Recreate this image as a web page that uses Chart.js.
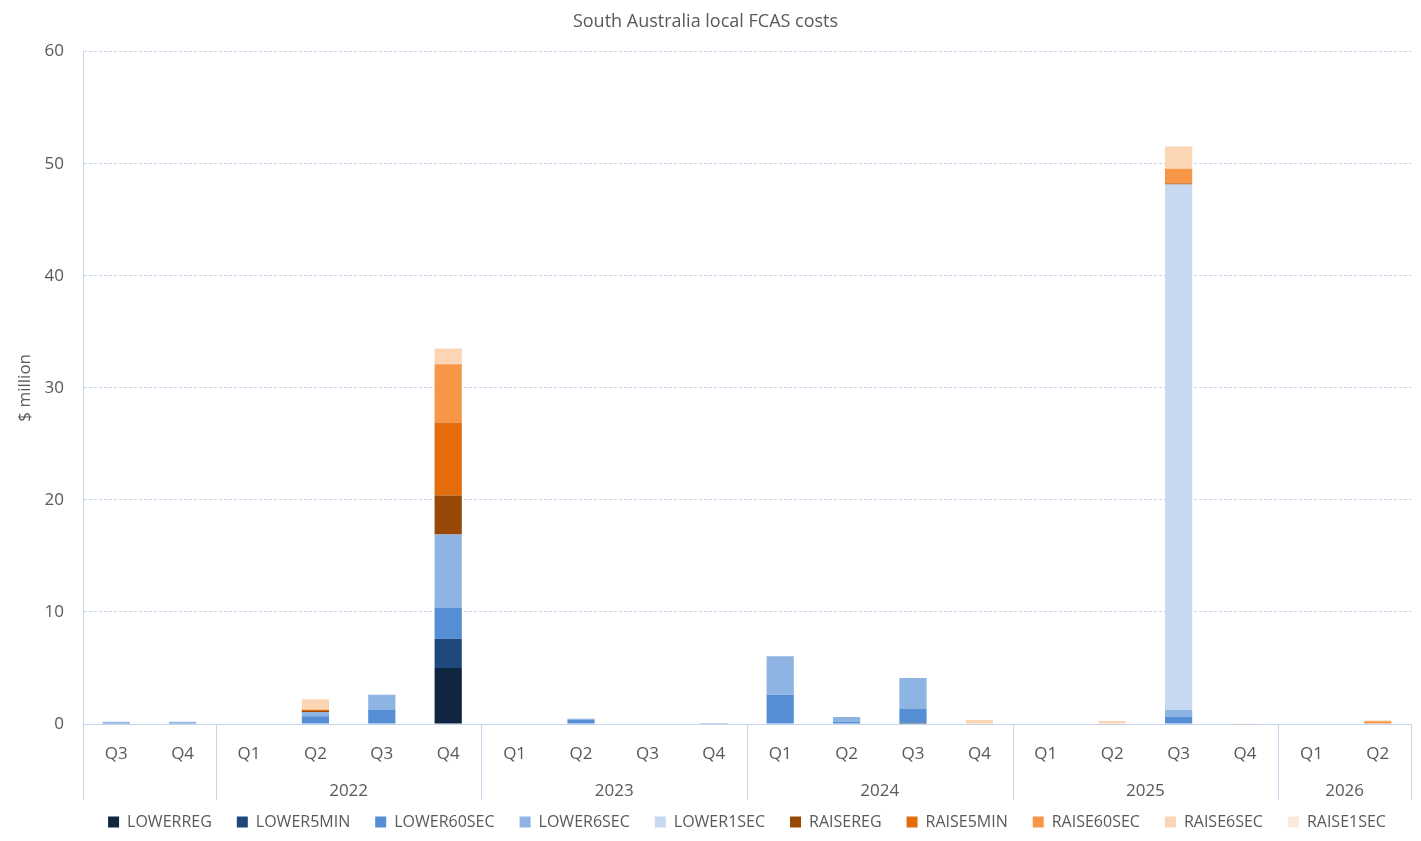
<!DOCTYPE html>
<html lang="en">
<head>
	<meta charset="utf-8">
	<title>South Australia local FCAS costs</title>
	<style>
html, body {
	margin: 0;
	padding: 0;
	background: #fff;
}
#chartWrapper {
	width: 1421px;
	height: 841px;
}
	</style>
</head>
<body>

<div id="chartWrapper">
  <canvas id="myChart"></canvas>
</div>

<script src="https://cdn.jsdelivr.net/npm/chart.js"></script>
<script>
// quarters from Q3 2021 to Q2 2026
const quarters = ['Q3','Q4','Q1','Q2','Q3','Q4','Q1','Q2','Q3','Q4','Q1','Q2','Q3','Q4','Q1','Q2','Q3','Q4','Q1','Q2'];
const years = ['', '2022', '2023', '2024', '2025', '2026'];
const yearSpans = [2, 4, 4, 4, 4, 2];
const yTicks = [0, 10, 20, 30, 40, 50, 60];

// $ million
const lowerReg   = [0,0,0,0,0,5.0,0,0,0,0,0,0,0,0,0,0,0,0,0,0];
const lower5Min  = [0,0,0,0,0,2.6,0,0,0,0,0,0,0.12,0,0,0,0,0,0,0];
const lower60Sec = [0.12,0.12,0,0.7,1.25,2.8,0,0.36,0,0,2.6,0.2,1.22,0,0,0,0.62,0,0,0];
const lower6Sec  = [0.08,0.08,0,0.37,1.35,6.5,0,0.1,0,0.1,3.45,0.42,2.76,0,0,0,0.62,0,0,0.05];
const lower1Sec  = [0,0,0,0,0,0,0,0,0,0,0,0,0,0,0,0,46.9,0,0,0];
const raiseReg   = [0,0,0,0.1,0,3.5,0,0,0,0,0,0,0,0,0,0,0.1,0,0,0];
const raise5Min  = [0,0,0,0.08,0,6.5,0,0,0,0,0,0,0,0,0,0,0,0,0,0];
const raise60Sec = [0,0,0,0.05,0,5.2,0,0,0,0,0,0,0,0,0,0,1.3,0,0,0.2];
const raise6Sec  = [0,0,0,0.9,0,1.4,0,0,0,0,0,0,0,0.36,0,0.27,2.0,0,0,0.07];
const raise1Sec  = [0,0,0,0,0,0,0,0,0,0,0,0,0,0,0,0,0,0.08,0,0];

const seriesNames = ['LOWERREG','LOWER5MIN','LOWER60SEC','LOWER6SEC','LOWER1SEC','RAISEREG','RAISE5MIN','RAISE60SEC','RAISE6SEC','RAISE1SEC'];
const seriesData = [lowerReg, lower5Min, lower60Sec, lower6Sec, lower1Sec, raiseReg, raise5Min, raise60Sec, raise6Sec, raise1Sec];
const seriesColors = ['#10253F','#1F497D','#558ED5','#8EB4E3','#C6D9F1','#984807','#E46C0A','#F79646','#FCD5B5','#FDE9D9'];

const textColor = '#595959';
const lineColor = '#C5D6EC';
const fontFamily = "'Open Sans', 'Noto Sans', sans-serif";

// year row + group separators under the quarter labels
const yearRows = {
	id: 'yearRows',
	afterLayout(chart) {
		// centre the legend under the plot area rather than the canvas
		const lg = chart.legend;
		const area = chart.chartArea;
		const shift = ((area.left + area.right) - (lg.left + lg.right)) / 2;
		lg.left += shift;
		lg.right += shift;
	},
	afterDraw(chart) {
		const ctx = chart.ctx;
		const x = chart.scales.x;
		const area = chart.chartArea;
		const half = (x.getPixelForValue(1) - x.getPixelForValue(0)) / 2;
		ctx.save();
		ctx.strokeStyle = lineColor;
		ctx.lineWidth = 1;
		ctx.fillStyle = textColor;
		ctx.font = '17px ' + fontFamily;
		ctx.textAlign = 'center';
		ctx.textBaseline = 'middle';
		let start = 0;
		for (let g = 0; g < years.length; g++) {
			const end = start + yearSpans[g] - 1;
			const left = x.getPixelForValue(start) - half;
			const right = x.getPixelForValue(end) + half;
			for (const px of [left, right]) {
				const p = Math.round(px) + 0.5;
				ctx.beginPath();
				ctx.moveTo(p, area.bottom);
				ctx.lineTo(p, area.bottom + 76);
				ctx.stroke();
			}
			ctx.fillText(years[g], (left + right) / 2, area.bottom + 67);
			start = end + 1;
		}
		ctx.restore();
	}
};

document.addEventListener('DOMContentLoaded', init, false);

function init() {
	let chartData = [];
	for (let i = 0; i < seriesNames.length; i++) {
		chartData.push({
			label: seriesNames[i],
			data: seriesData[i],
			backgroundColor: seriesColors[i],
			borderWidth: 0,
			barPercentage: 1,
			categoryPercentage: 0.41
		});
	}

	const ctx = document.getElementById('myChart');

	new Chart(ctx, {
		type: 'bar',
		data: {
			labels: quarters,
			datasets: chartData
		},
		plugins: [yearRows],
		options: {
			responsive: true,
			maintainAspectRatio: false,
			animation: false,
			layout: {
				padding: { left: 0, right: 10, top: 0, bottom: 12 }
			},
			scales: {
				x: {
					stacked: true,
					grid: { display: false },
					border: { display: true, color: lineColor, width: 1 },
					ticks: {
						color: textColor,
						font: { family: fontFamily, size: 17 },
						padding: 12,
						autoSkip: false,
						maxRotation: 0
					},
					afterFit(scale) { scale.height = 65; }
				},
				y: {
					stacked: true,
					min: 0,
					max: 60,
					afterBuildTicks(scale) {
						scale.ticks = yTicks.map(v => ({ value: v }));
					},
					grid: {
						color: lineColor,
						lineWidth: 1,
						drawTicks: false
					},
					border: { display: true, color: lineColor, width: 1, dash: [3, 2] },
					ticks: {
						color: textColor,
						font: { family: fontFamily, size: 17 },
						padding: 19
					},
					title: {
						display: true,
						text: '$ million',
						color: textColor,
						font: { family: fontFamily, size: 17 },
						padding: { top: 15, bottom: 0 }
					},
					afterFit(scale) { scale.width = 83; }
				}
			},
			plugins: {
				title: {
					display: true,
					text: 'South Australia local FCAS costs',
					color: textColor,
					font: { family: fontFamily, size: 18, weight: 'normal' },
					padding: { top: 11, bottom: 19 }
				},
				legend: {
					position: 'bottom',
					maxHeight: 40,
					labels: {
						color: textColor,
						font: { family: fontFamily, size: 16 },
						boxWidth: 11,
						boxHeight: 11,
						padding: 25
					}
				},
				tooltip: { enabled: false }
			}
		}
	});
}
</script>
</body>
</html>
